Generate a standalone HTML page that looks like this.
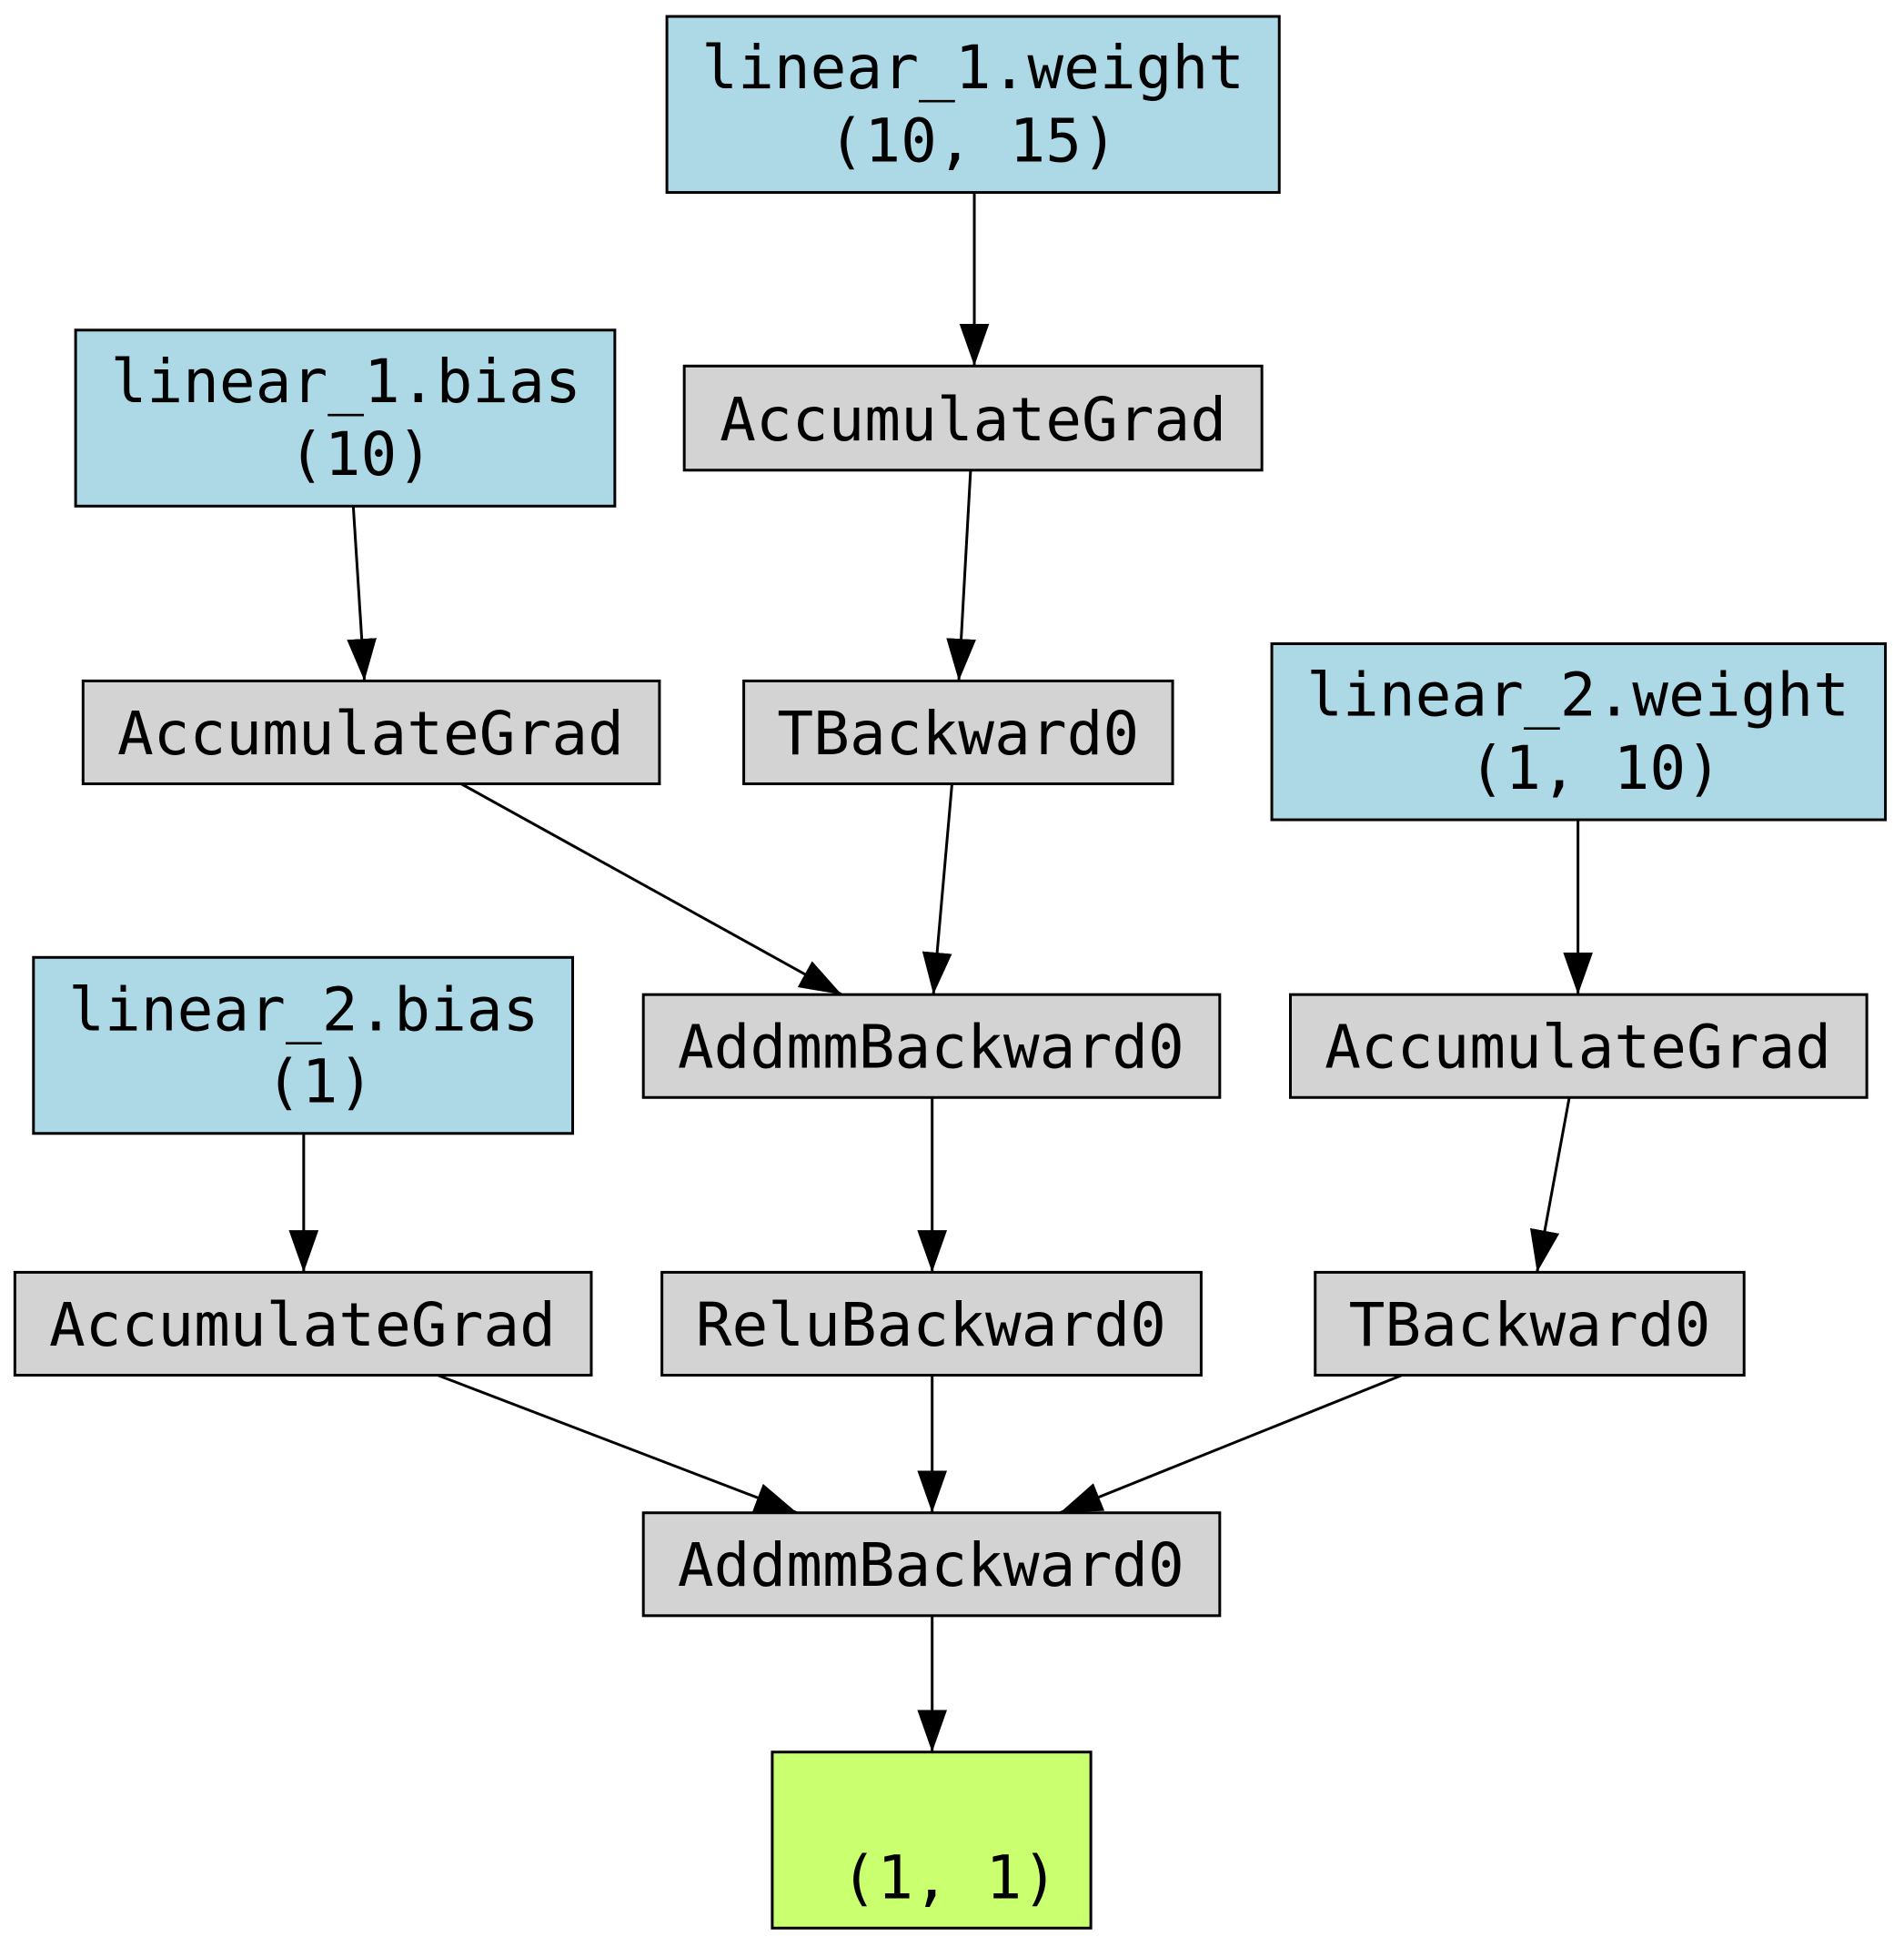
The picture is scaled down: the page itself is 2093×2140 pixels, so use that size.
<!DOCTYPE html>
<html><head><meta charset="utf-8"><style>html,body{margin:0;padding:0;background:#fff}svg{display:block}</style></head>
<body>
<svg width="2093" height="2140" viewBox="0 0 1536 1570" xmlns="http://www.w3.org/2000/svg">
<defs><marker id="a" markerUnits="userSpaceOnUse" markerWidth="40" markerHeight="30" refX="34" refY="12" orient="auto"><path d="M0,0 L34,12 L0,24 Z" fill="#000"/></marker></defs>
<g stroke="#000" stroke-width="2.2" fill="none" marker-end="url(#a)">
<line x1="786" y1="155" x2="786" y2="295"/>
<line x1="783" y1="379" x2="773.5" y2="549"/>
<line x1="285" y1="408" x2="294" y2="549"/>
<line x1="372" y1="632" x2="679" y2="802"/>
<line x1="768" y1="632" x2="753" y2="802"/>
<line x1="1273" y1="661" x2="1273" y2="802"/>
<line x1="245" y1="914" x2="245" y2="1026"/>
<line x1="752" y1="885" x2="752" y2="1026"/>
<line x1="1266" y1="885" x2="1240" y2="1026"/>
<line x1="353" y1="1109" x2="643" y2="1220"/>
<line x1="752" y1="1109" x2="752" y2="1220"/>
<line x1="1131" y1="1109" x2="855" y2="1220"/>
<line x1="752" y1="1303" x2="752" y2="1413"/>
</g>
<g stroke="#000" stroke-width="2.2">
<rect x="538" y="13" width="494" height="142" fill="#add8e6"/>
<rect x="552" y="295" width="466" height="84" fill="#d3d3d3"/>
<rect x="61" y="266" width="435" height="142" fill="#add8e6"/>
<rect x="67" y="549" width="465" height="83" fill="#d3d3d3"/>
<rect x="600" y="549" width="346" height="83" fill="#d3d3d3"/>
<rect x="1026" y="519" width="495" height="142" fill="#add8e6"/>
<rect x="27" y="772" width="435" height="142" fill="#add8e6"/>
<rect x="519" y="802" width="465" height="83" fill="#d3d3d3"/>
<rect x="1041" y="802" width="465" height="83" fill="#d3d3d3"/>
<rect x="12" y="1026" width="465" height="83" fill="#d3d3d3"/>
<rect x="534" y="1026" width="435" height="83" fill="#d3d3d3"/>
<rect x="1061" y="1026" width="346" height="83" fill="#d3d3d3"/>
<rect x="519" y="1220" width="465" height="83" fill="#d3d3d3"/>
<rect x="623" y="1413" width="257" height="142" fill="#caff70"/>
</g>
<g font-family="'DejaVu Sans Mono','Liberation Mono',monospace" font-size="48.5" text-anchor="middle" fill="#000">
<text x="785" y="71">linear_1.weight</text>
<text x="785" y="130">(10, 15)</text>
<text x="785" y="355">AccumulateGrad</text>
<text x="279" y="324">linear_1.bias</text>
<text x="291" y="383">(10)</text>
<text x="299" y="608">AccumulateGrad</text>
<text x="773" y="608">TBackward0</text>
<text x="1273" y="577">linear_2.weight</text>
<text x="1287" y="636">(1, 10)</text>
<text x="245" y="831">linear_2.bias</text>
<text x="258" y="889">(1)</text>
<text x="751" y="861">AddmmBackward0</text>
<text x="1273" y="861">AccumulateGrad</text>
<text x="244" y="1085">AccumulateGrad</text>
<text x="751" y="1085">ReluBackward0</text>
<text x="1234" y="1085">TBackward0</text>
<text x="751" y="1279">AddmmBackward0</text>
<text x="766" y="1531">(1, 1)</text>
</g>
</svg>
</body></html>
